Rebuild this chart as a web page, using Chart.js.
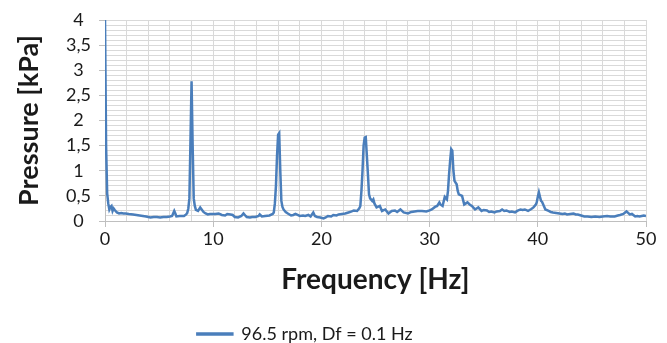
<!DOCTYPE html>
<html>
<head>
<meta charset="utf-8">
<script src="https://cdn.jsdelivr.net/npm/chart.js@4.4.1/dist/chart.umd.min.js"></script>
<style>
  html, body { margin: 0; padding: 0; background: #fff; }
  #wrap { width: 667px; height: 343px; }
</style>
</head>
<body>
<div id="wrap"><canvas id="spectrum"></canvas></div>
<script>
const seriesLabel = '96.5 rpm, Df = 0.1 Hz'

const freqHz = [
  0.0, 0.1, 0.2, 0.3, 0.4, 0.5, 0.6, 0.7, 0.8, 0.9, 1.1, 1.3, 1.5, 1.7, 1.9, 2.2, 2.6, 2.9, 3.2, 3.5,
  3.8, 4.2, 4.5, 4.8, 5.1, 5.4, 5.7, 6.0, 6.2, 6.4, 6.5, 6.6, 6.9, 7.3, 7.5, 7.6, 7.7, 7.8, 7.9, 8.0,
  8.1, 8.2, 8.3, 8.4, 8.6, 8.8, 8.9, 9.1, 9.3, 9.5, 9.7, 9.9, 10.2, 10.5, 10.8, 11.1, 11.3, 11.6, 11.8, 12.0,
  12.3, 12.6, 12.8, 13.0, 13.1, 13.4, 13.6, 13.9, 14.2, 14.3, 14.5, 14.8, 15.2, 15.5, 15.6, 15.7, 15.8, 15.9, 16.0, 16.1,
  16.2, 16.3, 16.4, 16.5, 16.7, 16.9, 17.2, 17.4, 17.6, 17.8, 18.0, 18.3, 18.5, 18.8, 19.0, 19.25, 19.4, 19.6, 19.9, 20.2,
  20.4, 20.6, 20.9, 21.1, 21.4, 21.6, 21.9, 22.2, 22.5, 22.8, 23.0, 23.3, 23.5, 23.6, 23.7, 23.8, 23.9, 24.0, 24.1, 24.2,
  24.3, 24.4, 24.5, 24.7, 24.8, 24.9, 25.1, 25.4, 25.6, 25.9, 26.2, 26.5, 26.8, 27.0, 27.3, 27.6, 28.0, 28.3, 28.6, 28.9,
  29.3, 29.7, 30.0, 30.2, 30.5, 30.7, 30.9, 31.0, 31.2, 31.4, 31.6, 31.7, 31.8, 31.9, 32.0, 32.1, 32.2, 32.3, 32.5, 32.6,
  32.7, 33.0, 33.2, 33.5, 33.7, 33.9, 34.2, 34.5, 34.8, 35.0, 35.3, 35.5, 35.7, 36.0, 36.2, 36.5, 36.7, 36.9, 37.1, 37.4,
  37.6, 37.9, 38.1, 38.4, 38.6, 38.8, 39.1, 39.4, 39.6, 39.8, 39.9, 40.0, 40.1, 40.2, 40.3, 40.4, 40.5, 40.6, 40.7, 40.9,
  41.0, 41.2, 41.4, 41.7, 42.0, 42.3, 42.5, 42.7, 43.0, 43.3, 43.5, 43.7, 44.0, 44.3, 44.6, 44.95, 45.3, 45.7, 46.0, 46.4,
  46.7, 47.1, 47.4, 47.6, 47.9, 48.2, 48.3, 48.5, 48.7, 49.0, 49.2, 49.4, 49.6, 49.8, 50.0
]

const pressureKPa = [
  4.0, 1.5, 0.55, 0.35, 0.23, 0.28, 0.30, 0.20, 0.25, 0.22, 0.17, 0.15, 0.16, 0.15, 0.15, 0.14, 0.13, 0.12, 0.11, 0.10,
  0.09, 0.07, 0.08, 0.08, 0.07, 0.08, 0.08, 0.09, 0.10, 0.20, 0.15, 0.09, 0.10, 0.10, 0.13, 0.16, 0.25, 0.45, 1.6, 2.78,
  1.5, 0.45, 0.30, 0.22, 0.20, 0.27, 0.24, 0.18, 0.15, 0.13, 0.14, 0.14, 0.14, 0.15, 0.12, 0.11, 0.14, 0.13, 0.12, 0.08,
  0.07, 0.10, 0.15, 0.10, 0.08, 0.07, 0.08, 0.08, 0.10, 0.13, 0.09, 0.10, 0.11, 0.14, 0.17, 0.35, 0.7, 1.3, 1.72, 1.75,
  1.0, 0.40, 0.28, 0.23, 0.18, 0.15, 0.11, 0.12, 0.14, 0.12, 0.10, 0.11, 0.10, 0.12, 0.09, 0.17, 0.10, 0.08, 0.07, 0.05,
  0.07, 0.10, 0.09, 0.12, 0.11, 0.13, 0.14, 0.15, 0.17, 0.19, 0.21, 0.20, 0.25, 0.30, 0.6, 1.0, 1.5, 1.66, 1.67, 1.3,
  0.93, 0.53, 0.45, 0.40, 0.43, 0.35, 0.27, 0.30, 0.20, 0.23, 0.15, 0.20, 0.21, 0.18, 0.23, 0.17, 0.15, 0.18, 0.19, 0.20,
  0.20, 0.19, 0.21, 0.23, 0.28, 0.30, 0.37, 0.33, 0.30, 0.48, 0.43, 0.6, 0.93, 1.2, 1.43, 1.40, 1.0, 0.80, 0.73, 0.6,
  0.53, 0.50, 0.33, 0.37, 0.33, 0.30, 0.23, 0.27, 0.20, 0.22, 0.21, 0.18, 0.19, 0.17, 0.19, 0.20, 0.23, 0.20, 0.21, 0.18,
  0.19, 0.17, 0.20, 0.23, 0.22, 0.23, 0.20, 0.24, 0.27, 0.32, 0.37, 0.48, 0.57, 0.48, 0.40, 0.38, 0.33, 0.28, 0.23, 0.21,
  0.20, 0.18, 0.17, 0.16, 0.15, 0.14, 0.15, 0.13, 0.14, 0.15, 0.13, 0.13, 0.11, 0.09, 0.09, 0.08, 0.09, 0.08, 0.09, 0.10,
  0.09, 0.09, 0.11, 0.12, 0.14, 0.19, 0.17, 0.13, 0.14, 0.09, 0.10, 0.09, 0.10, 0.11, 0.10
]

const xLabelTicks = [0, 10, 20, 30, 40, 50]
const yLabelTicks = [0, 0.5, 1, 1.5, 2, 2.5, 3, 3.5, 4]

const lineBlue = '#4a7ebb'
const gridGrey = '#d9d9d9'
const axisGrey = '#bfbfbf'
const textBlack = '#1a1a1a'

function isLabelled(value, list){
  return list.some(v => Math.abs(v - value) < 1e-6)
}

function commaNumber(value){
  return String(Math.round(value * 10) / 10).replace('.', ',')
}

// the legend in the original sits a bit left of centre and close to the bottom edge
const legendShift = {
  id: 'legendShift',
  afterLayout(chart){
    const lg = chart.legend
    lg.left -= 18
    lg.right -= 18
    lg.top += 10
    lg.bottom += 10
  }
}

function printSpectrumChart(){
  const points = freqHz.map((f, i) => ({ x: f, y: pressureKPa[i] }))
  const ctx = document.getElementById('spectrum')

  const chart = new Chart(ctx, {
    type: 'line',
    data: {
      datasets: [{
        label: seriesLabel,
        data: points,
        borderColor: lineBlue,
        backgroundColor: lineBlue,
        borderWidth: 2.5,
        pointRadius: 0,
        tension: 0,
      }]
    },
    plugins: [legendShift],
    options: {
      responsive: true,
      maintainAspectRatio: false,
      animation: false,
      layout: { padding: { top: 20, right: 21, left: 0, bottom: 0 } },
      plugins: {
        tooltip: { enabled: false },
        legend: {
          position: 'bottom',
          labels: {
            color: textBlack,
            font: { family: 'Lato', size: 18 },
            boxWidth: 35,
            boxHeight: 1,
            padding: 4,
          }
        }
      },
      scales: {
        x: {
          type: 'linear',
          min: 0,
          max: 50,
          afterFit: scale => { scale.height = 343 - 220 - 33 },
          ticks: {
            stepSize: 2,
            autoSkip: false,
            maxRotation: 0,
            color: textBlack,
            padding: 1,
            font: { family: 'Lato', size: 18 },
            callback: value => isLabelled(value, xLabelTicks) ? String(value) : ''
          },
          grid: {
            color: gridGrey,
            lineWidth: 1,
            tickLength: 6,
            tickColor: c => (c.tick && isLabelled(c.tick.value, xLabelTicks)) ? axisGrey : 'rgba(0,0,0,0)'
          },
          border: { color: axisGrey },
          title: {
            display: true,
            text: 'Frequency [Hz]',
            color: textBlack,
            font: { family: 'Lato', size: 28, weight: 'bold' },
            padding: { top: 4, bottom: 14 }
          }
        },
        y: {
          min: 0,
          max: 4,
          afterFit: scale => { scale.width = 105 },
          ticks: {
            stepSize: 0.1,
            autoSkip: false,
            crossAlign: 'center',
            color: textBlack,
            padding: 8,
            font: { family: 'Lato', size: 18 },
            callback: value => isLabelled(value, yLabelTicks) ? commaNumber(value) : ''
          },
          grid: {
            color: gridGrey,
            lineWidth: 1,
            tickLength: 6,
            tickColor: c => (c.tick && isLabelled(c.tick.value, yLabelTicks)) ? axisGrey : 'rgba(0,0,0,0)'
          },
          border: { color: axisGrey },
          title: {
            display: true,
            text: 'Pressure [kPa]',
            color: textBlack,
            font: { family: 'Lato', size: 27, weight: 'bold' },
            padding: { top: 13, bottom: 4 }
          }
        }
      }
    }
  })
  return chart
}

printSpectrumChart()
</script>
</body>
</html>
